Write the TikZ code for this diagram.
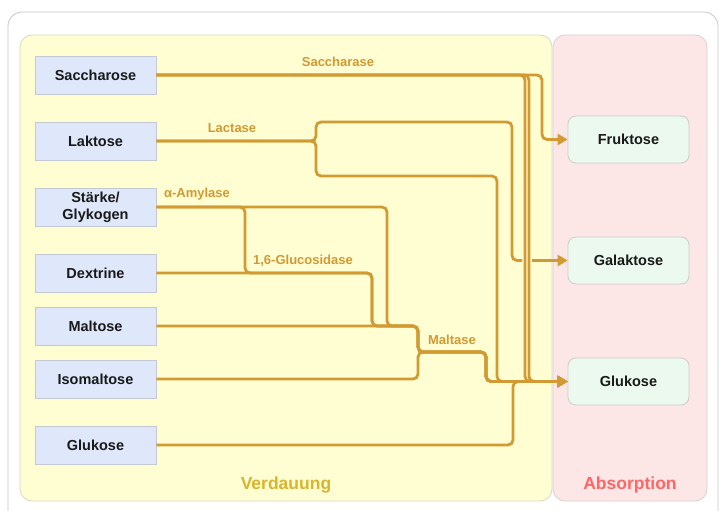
\documentclass[tikz,border=0pt]{standalone}
\usepackage{fontspec}
\setmainfont{Liberation Sans}
\usetikzlibrary{arrows.meta}
\definecolor{conn}{HTML}{D19A33}
\definecolor{srcfill}{HTML}{DFE8FB}
\definecolor{srcdraw}{HTML}{C4C8D0}
\definecolor{dstfill}{HTML}{EBF9EF}
\definecolor{dstdraw}{HTML}{CCCCCC}
\definecolor{digfill}{HTML}{FFFDD2}
\definecolor{digdraw}{HTML}{D8D8C8}
\definecolor{absfill}{HTML}{FDE6E6}
\definecolor{absdraw}{HTML}{DCCFCF}
\definecolor{diglbl}{HTML}{D8B52C}
\definecolor{abslbl}{HTML}{FF6666}
\begin{document}
\begin{tikzpicture}[x=1pt,y=-1pt,
  srcbox/.style={draw=srcdraw,fill=srcfill,line width=0.8pt,minimum width=121pt,minimum height=38pt,inner sep=1pt,align=center,font=\fontsize{14.5}{16}\selectfont\bfseries,text=black!90},
  dstbox/.style={draw=dstdraw,fill=dstfill,line width=0.8pt,rounded corners=8pt,minimum width=121pt,minimum height=47pt,font=\fontsize{14.5}{16}\selectfont\bfseries,text=black!90},
  edge/.style={draw=conn,line width=2.8pt,rounded corners=5pt},
  tipped/.style={edge,-{Triangle[length=10pt,width=11pt]}},
  elbl/.style={text=conn,font=\fontsize{13}{15}\selectfont\bfseries,inner sep=0pt},
  panel/.style={rounded corners=12pt,line width=0.8pt}
]
\useasboundingbox (0,0) rectangle (721,511);
% outer frame
\draw[draw=black!22,line width=0.8pt,rounded corners=14pt] (8,12) rectangle (718,530);
% panels
\draw[panel,draw=digdraw,fill=digfill] (20,35) rectangle (552,501);
\draw[panel,draw=absdraw,fill=absfill] (553,35) rectangle (707,501);
\node[text=diglbl,font=\fontsize{17.5}{20}\selectfont\bfseries] (vlbl) at (286,485) {Verdauung};
\node[text=abslbl,font=\fontsize{17.5}{20}\selectfont\bfseries] (albl) at (630,485) {Absorption};

% source nodes
\node[srcbox] (sac) at (95.5,75) {Saccharose};
\node[srcbox] (lak) at (95.5,141) {Laktose};
\node[srcbox,font=\fontsize{14.5}{17}\selectfont\bfseries] (sta) at (95.5,207) {Stärke/\\Glykogen};
\node[srcbox] (dex) at (95.5,273) {Dextrine};
\node[srcbox] (mal) at (95.5,326) {Maltose};
\node[srcbox] (iso) at (95.5,379) {Isomaltose};
\node[srcbox] (glk) at (95.5,445) {Glukose};

% target nodes
\node[dstbox] (fru) at (628.5,139.5) {Fruktose};
\node[dstbox] (gal) at (628.5,260.5) {Galaktose};
\node[dstbox] (glr) at (628.5,381.5) {Glukose};

% helper coordinates
\coordinate (galgapL) at (522,260.5);
\coordinate (galgapR) at (532,260.5);

% Saccharose
\draw[tipped] (sac.east) -- (542,75) -- (542,139.5) -- (fru.west);
\draw[tipped] (sac.east) -- (525,75) -- (525,381.5) -- (glr.west);
\draw[tipped] (sac.east) -- (529,75) -- (529,381.5) -- (glr.west);

% Laktose
\draw[edge] (lak.east) -- (316,141) -- (316,122) -- (512,122) -- (512,260.5) -- (galgapL);
\draw[tipped] (galgapR) -- (gal.west);
\draw[tipped] (lak.east) -- (316,141) -- (316,176) -- (497,176) -- (497,381.5) -- (glr.west);

% Staerke / Dextrine / Maltose / Isomaltose
\draw[tipped] (sta.east) -- (387,207) -- (387,326) -- (418,326) -- (418,352) -- (486,352) -- (486,381.5) -- (glr.west);
\draw[tipped] (sta.east) -- (245,207) -- (245,273) -- (372,273) -- (372,326) -- (418,326) -- (418,352) -- (486,352) -- (486,381.5) -- (glr.west);
\draw[tipped] (dex.east) -- (372,273) -- (372,326) -- (418,326) -- (418,352) -- (486,352) -- (486,381.5) -- (glr.west);
\draw[tipped] (mal.east) -- (418,326) -- (418,352) -- (486,352) -- (486,381.5) -- (glr.west);
\draw[tipped] (iso.east) -- (418,379) -- (418,352) -- (486,352) -- (486,381.5) -- (glr.west);

% Glukose direct
\draw[tipped] (glk.east) -- (513,445) -- (513,381.5) -- (glr.west);

% enzyme labels
\node[elbl] (l1) at (338,62) {Saccharase};
\node[elbl] (l2) at (232,128) {Lactase};
\node[elbl] (l3) at (197,194) {α-Amylase};
\node[elbl] (l4) at (303,261) {1,6-Glucosidase};
\node[elbl] (l5) at (452,340) {Maltase};
\end{tikzpicture}
\end{document}
